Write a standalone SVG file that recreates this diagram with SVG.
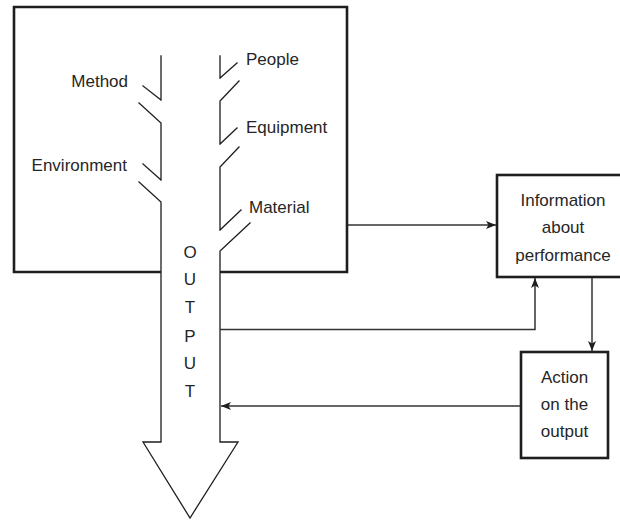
<svg xmlns="http://www.w3.org/2000/svg" width="620" height="520" viewBox="0 0 620 520">
  <style>
    .box { fill: none; stroke: #1e1e1e; stroke-width: 2.6; }
    .trunk { fill: none; stroke: #1e1e1e; stroke-width: 1.3; stroke-linecap: square; }
    .conn { fill: none; stroke: #333; stroke-width: 1.5; }
    text { font-family: "Liberation Sans", Arial, sans-serif; font-size: 17px; fill: #262626; }
    .mid { text-anchor: middle; }
    .end { text-anchor: end; }
  </style>
  <defs>
    <marker id="arrow" viewBox="0 0 10 8" refX="10" refY="4" markerWidth="10" markerHeight="8" markerUnits="userSpaceOnUse" orient="auto">
      <path d="M0,0 L10,4 L0,8 L2.5,4 Z" fill="#1e1e1e"/>
    </marker>
  </defs>
  <rect width="620" height="520" fill="#fff"/>

  <!-- process box, open where the output arrow leaves it -->
  <g id="process">
    <path class="box" d="M161,272 H14 V7 H347 V272 H220"/>
  </g>

  <!-- output arrow with cause branches -->
  <g id="output-arrow">
    <path class="trunk" d="M161,56 V100 M143,86 L161,100 M139,103 L161,123 V180 M143,164 L161,180 M139,182 L161,202 V442 H143 L190,518 L238,442 H220 V251 L250,223 M220,230 L241,210 M220,230 V167 L239,147 M220,144 L237,128 M220,144 V101 L239,81 M220,78 L237,63 M220,78 V56"/>
    <text class="mid" x="190" y="258">O</text>
    <text class="mid" x="190" y="285">U</text>
    <text class="mid" x="190" y="313">T</text>
    <text class="mid" x="190" y="342">P</text>
    <text class="mid" x="190" y="369">U</text>
    <text class="mid" x="190" y="397">T</text>
  </g>

  <g id="labels">
    <text class="end" x="128" y="87">Method</text>
    <text class="end" x="127" y="171">Environment</text>
    <text x="246" y="65">People</text>
    <text x="246" y="133">Equipment</text>
    <text x="249" y="213">Material</text>
  </g>

  <g id="information">
    <rect class="box" x="497" y="175" width="125" height="102"/>
    <text class="mid" x="563" y="206">Information</text>
    <text class="mid" x="563" y="233">about</text>
    <text class="mid" x="563" y="261">performance</text>
  </g>

  <g id="action">
    <rect class="box" x="521" y="352" width="87" height="106"/>
    <text class="mid" x="564.5" y="383">Action</text>
    <text class="mid" x="564.5" y="410">on the</text>
    <text class="mid" x="564.5" y="437">output</text>
  </g>

  <g id="connectors">
    <path class="conn" d="M348,225 H496" marker-end="url(#arrow)"/>
    <path class="conn" d="M220,329.5 H535 V278" marker-end="url(#arrow)"/>
    <path class="conn" d="M592,278 V351" marker-end="url(#arrow)"/>
    <path class="conn" d="M520,406 H221" marker-end="url(#arrow)"/>
  </g>
</svg>
